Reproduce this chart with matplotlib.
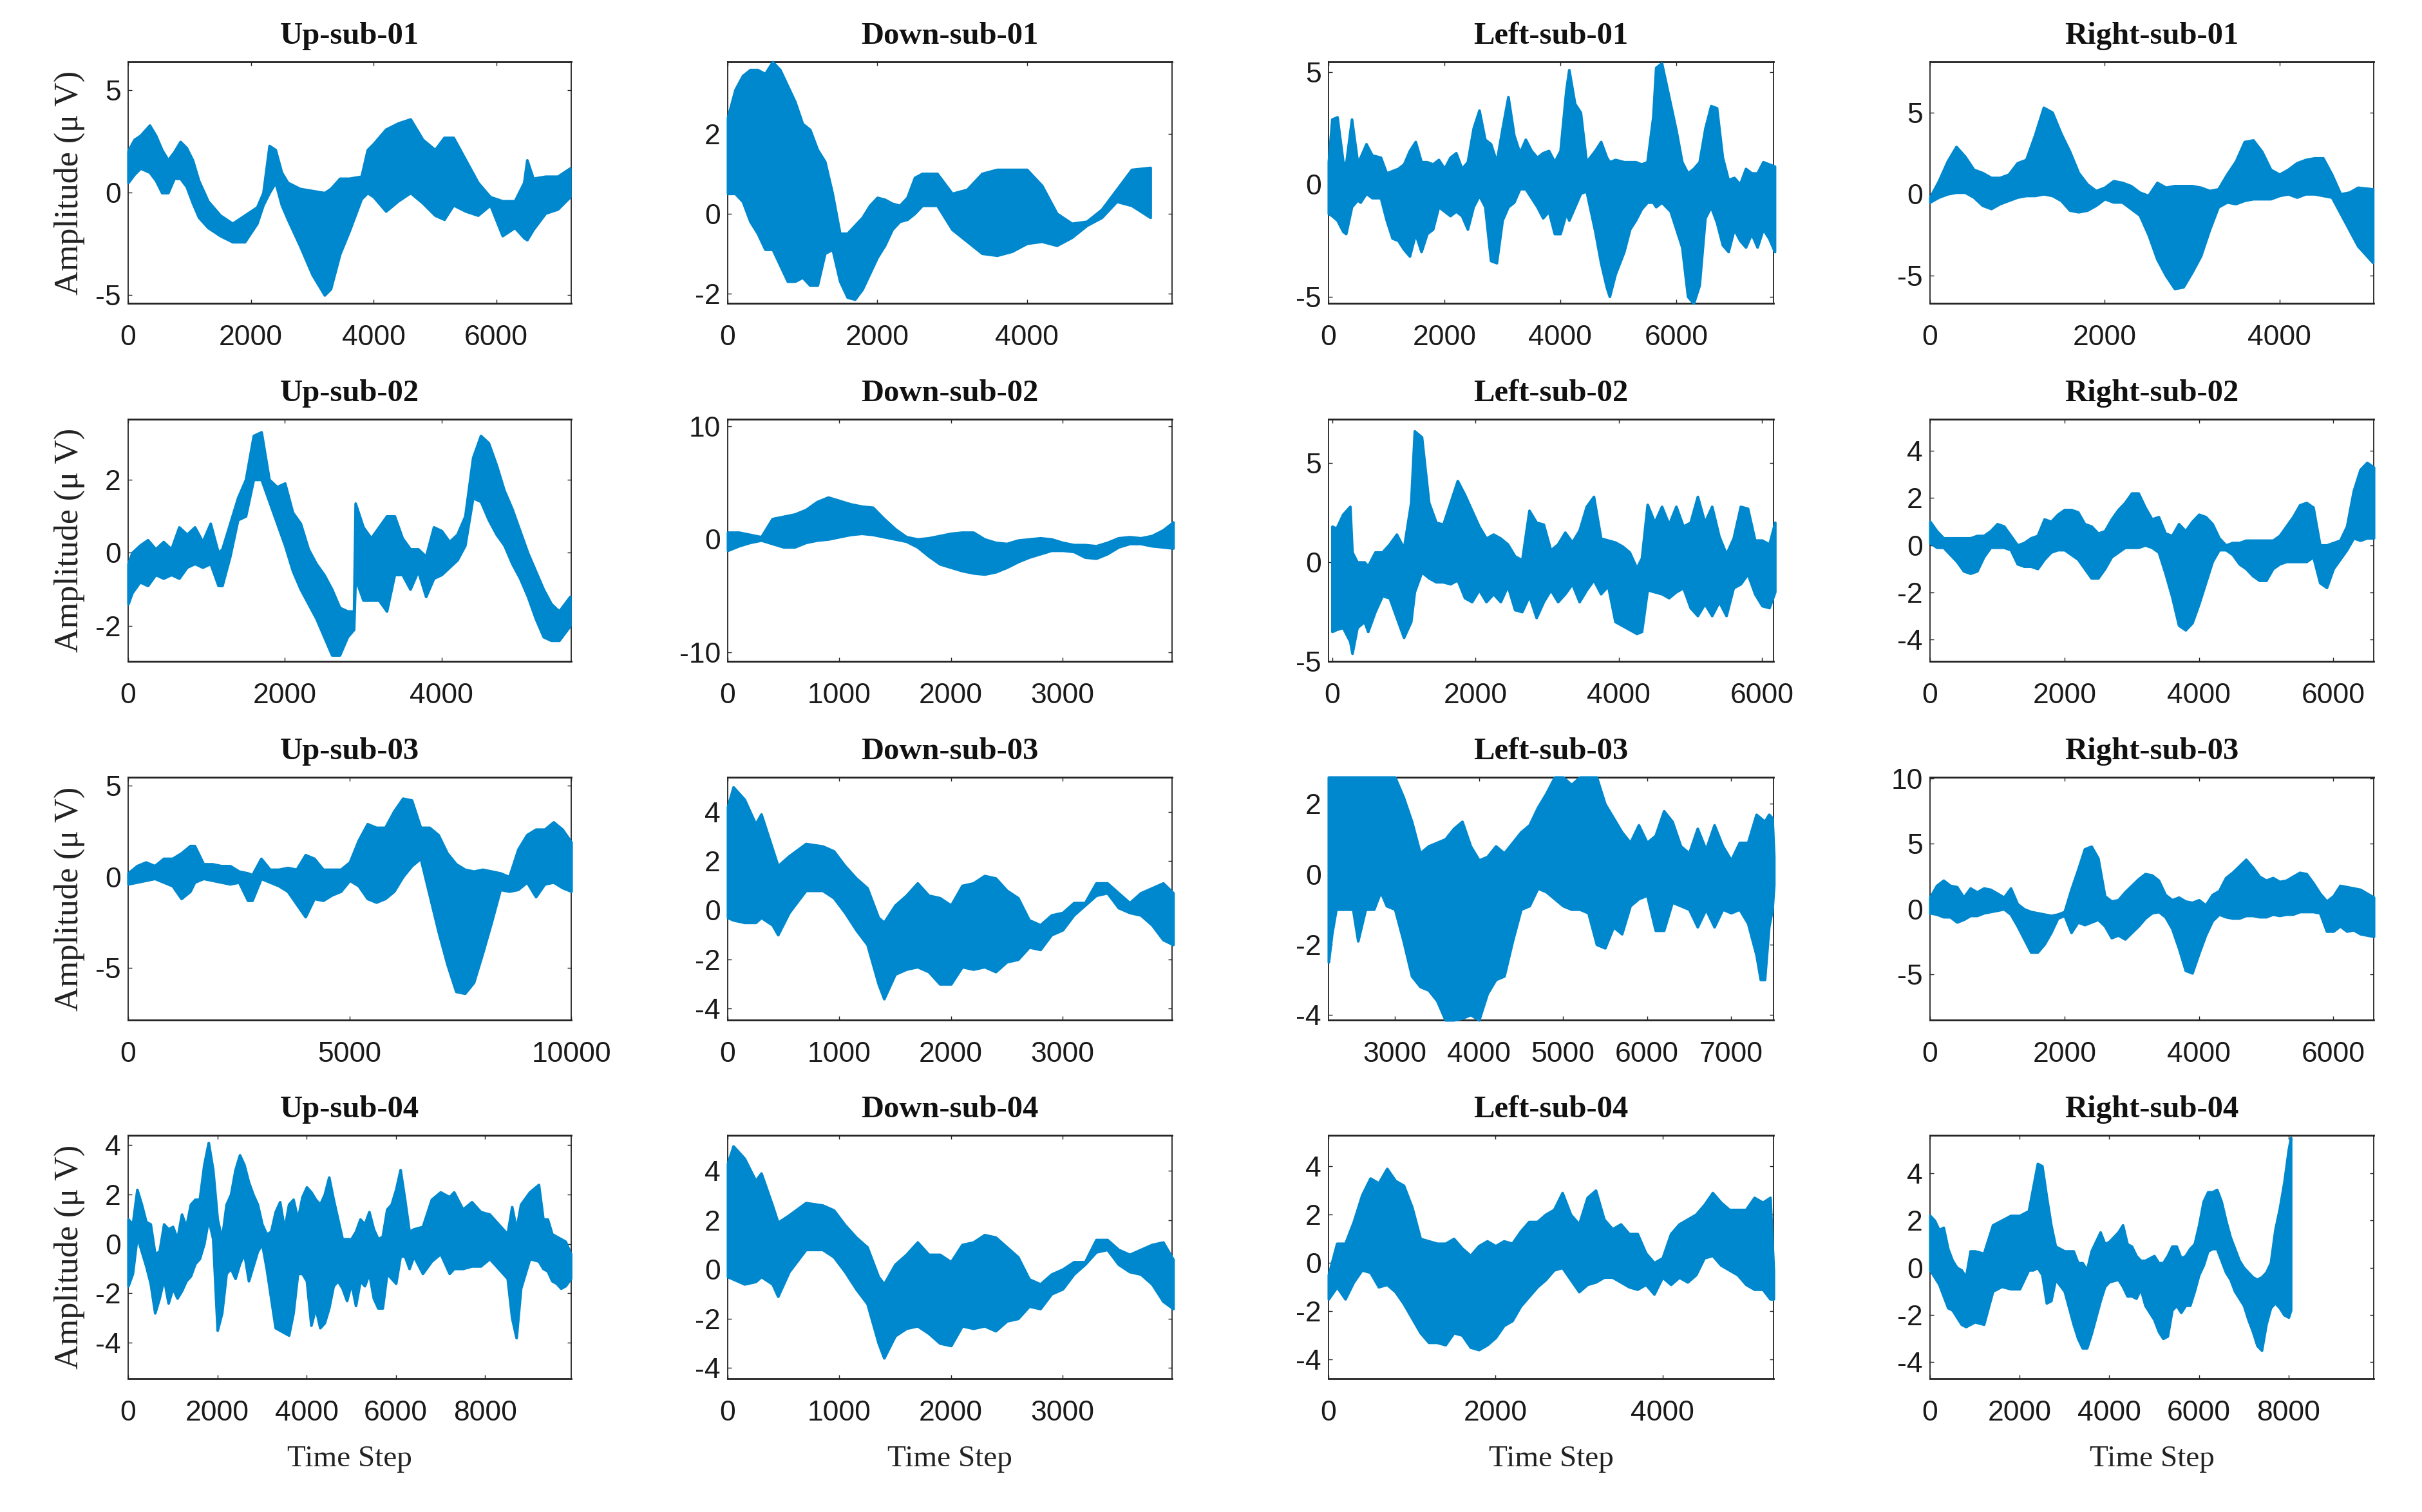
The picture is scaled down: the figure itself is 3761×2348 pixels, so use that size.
import matplotlib
matplotlib.use('Agg')
import matplotlib.pyplot as plt

plt.rcParams['axes.unicode_minus'] = False

# ---- first row ----
up1_x = [0,100,200,350,450,550,650,750,850,950,
         1050,1150,1300,1500,1700,1900,2100,2200,2300,2400,
         2500,2600,2800,3000,3200,3300,3450,3600,3800,3900,
         4000,4200,4400,4600,4800,5000,5150,5300,5500,5700,
         5900,6100,6300,6450,6500,6600,6800,7000,7200]
up1_hi = [2.05,2.6,2.8,3.3,2.8,2.1,1.6,2.0,2.5,2.2,
          1.6,0.6,-0.4,-1.1,-1.5,-1.1,-0.7,0,2.3,2.1,
          1.0,0.5,0.2,0.1,0,0.2,0.7,0.7,0.8,2.1,
          2.4,3.1,3.4,3.6,2.6,2.1,2.7,2.7,1.6,0.5,
          -0.2,-0.4,-0.4,0.5,1.6,0.7,0.8,0.8,1.2]
up1_lo = [0.5,0.9,1.2,1.0,0.6,0,0,0.7,0.7,0.3,
          -0.5,-1.2,-1.7,-2.1,-2.4,-2.4,-1.5,-0.6,0,0.5,
          -0.6,-1.3,-2.6,-4,-5.0,-4.7,-3,-1.9,-0.3,0,
          -0.2,-0.9,-0.4,0,-0.5,-1.1,-1.3,-0.6,-0.9,-1.1,
          -0.6,-2.1,-1.7,-2.2,-2.3,-1.8,-1,-0.8,-0.2]

down1_x = [0,100,200,300,400,500,600,700,800,900,
           1000,1100,1200,1300,1400,1500,1600,1700,1800,1900,
           2000,2100,2200,2300,2400,2500,2600,2800,3000,3200,
           3400,3600,3800,4000,4200,4400,4600,4800,5000,5200,
           5400,5650]
down1_hi = [2.4,3.1,3.45,3.6,3.6,3.5,3.8,3.6,3.2,2.8,
            2.25,2.1,1.6,1.3,0.5,-0.5,-0.5,-0.3,-0.1,0.2,
            0.4,0.35,0.25,0.2,0.4,0.9,1.0,1.0,0.5,0.6,
            1.0,1.1,1.1,1.1,0.7,0,-0.25,-0.2,0.1,0.6,
            1.1,1.15]
down1_lo = [0.5,0.5,0.3,-0.2,-0.5,-0.9,-0.9,-1.3,-1.7,-1.7,
            -1.6,-1.8,-1.8,-1.0,-0.9,-1.7,-2.1,-2.15,-1.9,-1.5,
            -1.1,-0.8,-0.4,-0.2,-0.15,0,0.2,0.2,-0.4,-0.7,
            -1,-1.05,-0.95,-0.75,-0.7,-0.8,-0.6,-0.3,-0.1,0.3,
            0.2,-0.1]

left1_x = [0,60,150,250,300,400,500,550,650,750,
           900,1000,1100,1200,1300,1400,1500,1600,1700,1800,
           1900,2000,2100,2200,2300,2400,2500,2600,2700,2800,
           2900,3000,3100,3200,3300,3400,3500,3600,3700,3800,
           3900,4000,4100,4150,4250,4350,4450,4600,4700,4800,
           4850,4950,5100,5200,5300,5400,5500,5600,5650,5750,
           5900,6000,6100,6200,6300,6400,6500,6600,6700,6800,
           6900,7000,7100,7200,7300,7400,7500,7600,7700]
left1_hi = [1.0,2.9,3.0,1.0,0.9,2.9,1.0,1.2,1.8,1.3,
            1.2,0.5,0.6,0.7,0.9,1.5,1.9,1.0,1.0,0.9,
            1.1,0.7,1.2,1.4,0.7,1.0,2.5,3.3,2.0,1.8,
            1.0,2.5,3.9,2.2,1.4,2.0,1.5,1.2,1.4,1.5,
            1.0,1.5,4.2,5.1,3.6,3.2,1.0,1.5,1.9,1.2,
            1.0,1.1,1.0,1.0,1.0,0.9,1.0,3,5.2,5.4,
            3.6,2.4,1.0,0.5,0.7,1.0,2.5,3.5,3.4,1.2,
            0.2,0.3,0.0,0.7,0.5,0.5,1.0,0.9,0.8]
left1_lo = [-1.3,-1.4,-1.6,-2.1,-2.2,-1.0,-0.7,-0.8,-0.4,-0.6,
            -0.6,-1.6,-2.4,-2.5,-2.9,-3.2,-2.2,-3.0,-2.2,-2.0,
            -1.0,-1.2,-1.4,-1.2,-1.4,-2.0,-1.0,-0.5,-1,-3.4,
            -3.5,-1.6,-1.0,-0.8,-0.2,-0.2,-0.6,-1.0,-1.5,-1.2,
            -2.2,-2.2,-1.3,-1.6,-1.0,-0.4,-0.3,-2.1,-3.5,-4.6,
            -5.0,-4,-3,-2,-1.6,-1.1,-0.8,-0.8,-1,-0.8,
            -1.2,-2,-2.8,-5,-5.3,-4.5,-1.5,-1,-1.7,-2.7,
            -3.0,-2,-2.5,-2.8,-2.2,-2.8,-2.0,-2.4,-3.0]

right1_x = [0,100,200,300,400,500,600,700,800,900,
            1000,1100,1200,1300,1400,1500,1600,1700,1800,1900,
            2000,2100,2200,2300,2400,2500,2600,2700,2800,2900,
            3000,3100,3200,3300,3400,3500,3600,3700,3800,3900,
            4000,4100,4200,4300,4400,4500,4600,4700,4800,4900,5070]
right1_hi = [-0.2,0.8,2.0,2.9,2.3,1.5,1.3,1.0,1.0,1.2,
             1.9,2.1,3.6,5.3,5.0,3.7,2.6,1.3,0.6,0.2,
             0.4,0.8,0.7,0.5,0.1,-0.1,0.7,0.4,0.5,0.5,
             0.5,0.4,0.2,0.3,1.2,2.0,3.2,3.3,2.6,1.5,
             1.2,1.5,1.9,2.1,2.2,2.2,1.2,0,0.1,0.4,0.3]
right1_lo = [-0.5,-0.2,0,0.1,0.1,-0.2,-0.7,-0.9,-0.6,-0.4,
             -0.2,-0.1,-0.1,0,-0.1,-0.4,-1.0,-1.1,-1.0,-0.7,
             -0.3,-0.5,-0.5,-0.9,-1.3,-2.5,-4,-5,-5.8,-5.7,
             -4.8,-3.8,-2.2,-0.8,-0.5,-0.6,-0.4,-0.3,-0.3,-0.3,
             -0.1,0,-0.2,0,0,-0.1,-0.2,-1.2,-2.2,-3.2,-4.2]

# ---- second row ----
up2_x = [0,50,150,250,350,450,550,650,750,850,
         950,1050,1150,1200,1300,1400,1500,1600,1700,1800,
         1900,2000,2100,2200,2300,2400,2500,2600,2700,2800,
         2880,2900,3000,3100,3200,3300,3400,3500,3600,3700,
         3800,3900,4000,4100,4200,4300,4400,4500,4600,4700,
         4800,4900,5000,5100,5200,5300,5400,5500,5640]
up2_hi = [-0.3,0,0.2,0.35,0.1,0.3,0.1,0.7,0.5,0.7,
          0.3,0.8,0,0.1,0.8,1.5,2.0,3.2,3.3,2.0,
          1.8,1.9,1.1,0.8,0.1,-0.3,-0.6,-1,-1.5,-1.6,
          -1.6,1.35,0.7,0.4,0.7,1.0,1.0,0.4,0.1,0.1,
          -0.1,0.7,0.6,0.3,0.5,1,2.6,3.2,3.0,2.4,
          1.7,1.2,0.6,0,-0.5,-1,-1.4,-1.6,-1.2]
up2_lo = [-1.4,-1.1,-0.8,-0.9,-0.6,-0.7,-0.6,-0.7,-0.4,-0.3,
          -0.4,-0.3,-0.9,-0.9,-0.1,0.9,1.0,2.0,2.0,1.4,
          0.8,0.2,-0.5,-1.0,-1.4,-1.8,-2.3,-2.8,-2.8,-2.3,
          -2.1,-0.7,-1.3,-1.3,-1.3,-1.6,-0.6,-0.6,-1,-0.5,
          -1.2,-0.7,-0.6,-0.4,-0.2,0.2,1.5,1.4,0.9,0.5,
          0.2,-0.3,-0.7,-1.2,-1.8,-2.3,-2.4,-2.4,-2.0]

down2_x = [0,100,200,300,400,500,600,700,800,900,
           1000,1100,1200,1300,1400,1500,1600,1700,1800,1900,
           2000,2100,2200,2300,2400,2500,2600,2700,2800,2900,
           3000,3100,3200,3300,3400,3500,3600,3700,3800,3900,3990]
down2_hi = [0.6,0.6,0.4,0.2,1.8,2.0,2.2,2.6,3.3,3.7,
            3.4,3.1,2.9,2.8,1.8,0.9,0.2,0,0.1,0.3,
            0.5,0.6,0.6,0,-0.3,-0.4,-0.1,0,0.1,0,
            -0.3,-0.5,-0.5,-0.6,-0.3,0.1,0.2,0.1,0.3,0.8,1.5]
down2_lo = [-1.0,-0.6,-0.3,-0.1,-0.4,-0.7,-0.7,-0.3,-0.1,0,
            0.2,0.4,0.5,0.4,0.2,0,-0.2,-0.7,-1.5,-2.2,
            -2.5,-2.8,-3.0,-3.1,-2.9,-2.5,-2.0,-1.6,-1.3,-1.0,
            -1.0,-1.1,-1.6,-1.7,-1.3,-0.7,-0.4,-0.4,-0.6,-0.7,-0.8]

left2_x = [0,60,150,250,280,350,450,500,600,700,
           800,900,1000,1100,1150,1250,1350,1450,1550,1650,
           1750,1850,1950,2050,2150,2250,2350,2450,2550,2650,
           2750,2850,2950,3050,3150,3250,3350,3450,3550,3650,
           3750,3850,3950,4050,4150,4250,4320,4400,4500,4600,
           4700,4800,4900,5000,5100,5200,5300,5400,5500,5600,
           5700,5800,5900,6000,6100,6180]
left2_hi = [1.8,1.7,2.4,2.8,0.5,0,0,-0.2,0.5,0.5,
            0.9,1.4,0.7,3,6.6,6.3,3.0,2.0,1.9,3.0,
            4.1,3.4,2.6,1.8,1.2,1.4,1.2,0.9,0.3,0.1,
            2.6,2.0,1.9,0.6,0.9,1.5,1.0,1.6,2.8,3.3,
            1.2,1.1,1.0,0.8,0.5,-0.3,0.2,2.9,2.0,2.8,
            1.9,2.8,1.8,2.0,3.3,2.0,2.8,1.3,0.4,1.2,
            2.8,2.7,1.1,1.1,0.9,2.0]
left2_lo = [-3.5,-3.4,-3.3,-4.0,-4.6,-3.3,-3.0,-3.5,-2.5,-1.7,
            -1.8,-2.8,-3.8,-3.0,-1.5,-0.5,-0.8,-1.0,-1,-1.1,
            -0.9,-1.8,-2,-1.4,-2.0,-1.6,-2,-1.2,-2.4,-2.5,
            -1.7,-2.8,-2.0,-1.4,-2.0,-1.6,-1.1,-2.0,-1.4,-0.9,
            -1.6,-1.2,-3.0,-3.2,-3.4,-3.6,-3.5,-1.4,-1.5,-1.6,
            -1.8,-1.5,-1.3,-2.3,-2.7,-2.1,-2.7,-2,-2.7,-1.3,
            -1.1,-0.6,-1.6,-2.2,-2.3,-1.5]

right2_x = [0,100,200,300,400,500,600,700,800,900,
            1000,1100,1200,1300,1400,1500,1600,1700,1800,1900,
            2000,2100,2200,2300,2400,2500,2600,2700,2800,2900,
            3000,3100,3200,3300,3400,3500,3600,3700,3800,3900,
            4000,4100,4200,4300,4400,4500,4600,4700,4800,4900,
            5000,5100,5200,5300,5400,5500,5600,5700,5800,5900,
            6000,6100,6200,6300,6400,6500,6600]
right2_hi = [1.0,0.6,0.3,0.3,0.3,0.3,0.3,0.4,0.4,0.6,
             0.9,0.8,0.4,0,0.1,0.3,0.4,1.1,1.0,1.3,
             1.5,1.5,1.4,0.9,0.8,0.5,0.6,1.1,1.5,1.8,
             2.2,2.2,1.6,1.1,1.2,0.5,0.4,0.9,0.6,1.0,
             1.3,1.2,0.9,0.3,0,0.1,0.1,0.2,0.2,0.2,
             0.2,0.2,0.4,0.8,1.2,1.7,1.8,1.6,0,0,
             0.1,0.2,0.8,2.3,3.2,3.5,3.3]
right2_lo = [0.1,-0.1,-0.1,-0.4,-0.7,-1.1,-1.2,-1.1,-0.5,-0.1,
             -0.1,-0.1,-0.2,-0.8,-0.9,-0.9,-1.0,-0.6,-0.3,-0.2,
             -0.2,-0.4,-0.6,-1.0,-1.4,-1.4,-1.0,-0.5,-0.3,-0.1,
             -0.1,-0.1,0,-0.1,-0.3,-1.2,-2.2,-3.4,-3.6,-3.3,
             -2.5,-1.6,-0.7,-0.2,-0.2,-0.4,-0.8,-1.0,-1.3,-1.5,
             -1.5,-1.0,-0.8,-0.7,-0.7,-0.7,-0.7,-0.5,-1.6,-1.8,
             -1.0,-0.6,-0.2,0.3,0.2,0.3,0.3]

# ---- third row ----
up3_x = [0,200,400,600,800,1000,1200,1400,1500,1700,
         1900,2100,2300,2500,2700,2800,3000,3200,3400,3600,
         3800,4000,4200,4400,4600,4800,5000,5200,5400,5600,
         5800,6000,6200,6400,6600,6800,7000,7200,7400,7600,
         7800,8000,8200,8400,8600,8800,9000,9200,9400,9600,
         9800,10000]
up3_hi = [0.2,0.6,0.8,0.6,1.0,1.0,1.3,1.7,1.7,0.7,
          0.7,0.6,0.6,0.3,0.2,0.1,1.0,0.4,0.4,0.5,
          0.4,1.2,1.0,0.4,0.4,0.4,0.8,2.0,2.9,2.7,
          2.7,3.6,4.3,4.2,2.7,2.7,2.3,1.3,0.7,0.4,
          0.3,0.4,0.3,0.2,0,1.5,2.3,2.6,2.6,3.0,
          2.6,1.9]
up3_lo = [-0.4,-0.3,-0.2,-0.1,-0.3,-0.5,-1.2,-0.8,-0.3,-0.1,
          -0.2,-0.3,-0.4,-0.3,-1.3,-1.3,-0.1,-0.3,-0.5,-0.8,
          -1.5,-2.2,-1.2,-1.3,-1,-0.8,-0.2,-0.5,-1.2,-1.4,
          -1.2,-0.8,0,0.6,1.0,-1,-3,-4.8,-6.3,-6.4,
          -5.8,-4.2,-2.5,-0.7,-0.8,-0.7,-0.3,-1.1,-0.4,-0.3,
          -0.6,-0.8]

down3_x = [0,50,150,250,300,400,450,550,700,850,
           950,1050,1150,1250,1350,1400,1500,1600,1700,1800,
           1900,2000,2100,2200,2300,2400,2500,2600,2700,2800,
           2900,3000,3100,3200,3300,3400,3500,3600,3700,3800,
           3900,3990]
down3_hi = [4.2,5.0,4.5,3.5,3.9,2.5,1.8,2.2,2.7,2.6,
            2.4,1.8,1.3,0.9,-0.3,-0.5,0.2,0.6,1.1,0.6,
            0.5,0.2,1,1.1,1.4,1.3,0.8,0.5,-0.4,-0.6,
            -0.2,-0.1,0.3,0.3,1.1,1.1,0.7,0.3,0.7,0.9,
            1.1,0.7]
down3_lo = [-0.3,-0.4,-0.5,-0.5,-0.3,-0.6,-1.0,-0.1,0.8,0.8,
            0.5,-0.1,-0.8,-1.4,-3.0,-3.6,-2.6,-2.4,-2.3,-2.5,
            -3,-3,-2.3,-2.4,-2.3,-2.5,-2.1,-2,-1.5,-1.6,
            -1,-0.8,-0.2,0.2,0.6,0.7,0.1,-0.1,-0.2,-0.6,
            -1.2,-1.4]

left3_x = [2210,2250,2300,2400,2500,2560,2650,2750,2830,2900,
           3000,3100,3200,3300,3400,3500,3600,3700,3800,3900,
           4000,4100,4200,4300,4400,4500,4600,4700,4800,4900,
           5000,5100,5200,5300,5400,5500,5600,5700,5800,5900,
           6000,6100,6200,6300,6400,6500,6600,6700,6800,6900,
           7000,7100,7200,7300,7350,7400,7450,7490,7510]
left3_hi = [2.76,2.76,2.76,2.76,2.76,2.76,2.76,2.76,2.76,2.76,
            2.76,2.2,1.5,0.6,0.8,0.9,1.0,1.3,1.5,0.8,
            0.4,0.5,0.8,0.6,0.9,1.2,1.4,1.9,2.3,2.76,
            2.76,2.55,2.76,2.76,2.76,2.0,1.6,1.2,0.9,1.4,
            0.9,1.1,1.8,1.5,0.8,0.6,1.3,0.7,1.4,0.8,
            0.4,0.9,0.9,1.7,1.6,1.5,1.7,1.6,0.5]
left3_lo = [-2.5,-1.7,-1.0,-1.0,-1.0,-1.9,-1.0,-1.0,-0.5,-0.9,
            -1.0,-1.9,-2.9,-3.2,-3.3,-3.6,-4.15,-4.15,-4.1,-4.0,
            -4.15,-3.4,-3.0,-2.9,-1.9,-1,-0.9,-0.4,-0.5,-0.7,
            -0.9,-1.0,-1.0,-1.1,-2.0,-2.1,-1.5,-1.7,-0.9,-0.7,
            -0.6,-1.6,-1.6,-0.8,-0.9,-1.0,-1.5,-1.0,-1.5,-1.0,
            -1.1,-1.0,-1.4,-2.3,-3.0,-3.0,-1.5,-1.0,-0.3]

right3_x = [0,100,200,300,400,500,600,700,800,900,
            1000,1100,1200,1300,1400,1500,1600,1700,1800,1900,
            2000,2100,2200,2300,2400,2500,2600,2700,2800,2900,
            3000,3100,3200,3300,3400,3500,3600,3700,3800,3900,
            4000,4100,4200,4300,4400,4500,4600,4700,4800,4900,
            5000,5100,5200,5300,5400,5500,5600,5700,5800,5900,
            6000,6100,6200,6300,6400,6500,6600]
right3_hi = [0.9,1.8,2.2,1.8,1.7,0.9,1.6,1.3,1.6,1.5,
             1.2,0.9,1.6,0.4,0,-0.2,-0.3,-0.4,-0.5,-0.4,
             -0.2,1.5,3.0,4.6,4.8,3.9,1.0,0.6,0.7,1.3,
             1.8,2.3,2.7,2.6,2.2,1.1,0.7,0.9,0.6,0.5,
             0.7,0.3,1.1,1.4,2.4,2.8,3.3,3.8,3.2,2.5,
             2.2,2.4,2.1,2.2,2.5,2.8,2.7,2.0,1.2,0.6,
             1.0,1.8,1.7,1.6,1.5,1.2,0.9]
right3_lo = [-0.3,-0.4,-0.6,-0.6,-1.0,-0.8,-0.5,-0.5,-0.3,-0.2,
             -0.1,0,-0.4,-1.3,-2.3,-3.3,-3.3,-2.7,-1.8,-0.7,
             -0.5,-1.8,-1.0,-1.2,-1.0,-0.8,-1.3,-2.2,-2.0,-2.3,
             -1.8,-1.3,-0.7,-0.3,-0.2,-0.6,-1.5,-3.0,-4.7,-4.9,
             -3.4,-2.0,-0.9,-0.4,-0.6,-0.7,-0.7,-0.5,-0.5,-0.6,
             -0.6,-0.4,-0.5,-0.4,-0.4,-0.2,-0.2,-0.2,-0.3,-1.7,
             -1.7,-1.3,-1.7,-1.6,-1.9,-2.0,-2.1]

# ---- fourth row ----
up4_x = [0,100,200,300,400,500,600,700,800,900,
         1000,1100,1200,1300,1400,1500,1600,1700,1800,1900,
         2000,2100,2200,2300,2400,2500,2600,2700,2800,2900,
         3000,3100,3200,3300,3400,3500,3600,3700,3800,3900,
         4000,4100,4200,4300,4400,4500,4600,4700,4800,4900,
         5000,5100,5200,5300,5400,5500,5600,5700,5800,5900,
         6000,6100,6200,6300,6400,6600,6800,7000,7200,7300,
         7500,7700,7900,8100,8300,8500,8600,8700,8800,9000,
         9200,9300,9400,9500,9600,9700,9800,9920]
up4_hi = [1.0,0.8,2.2,1.6,0.9,0.8,-0.4,-0.3,0.8,0.6,
          0.7,0.2,1.2,0.7,1.6,1.8,1.8,3.2,4.1,3.0,
          1.0,0.2,1.6,2.0,3.0,3.6,3.2,2.5,2.0,1.6,
          0.8,0.4,0.5,1.3,1.7,0.6,1.6,1.8,1.0,1.9,
          2.3,2.1,1.8,1.6,2.0,2.7,1.8,1.0,0.2,0.2,
          0.2,0.5,1.0,0.8,1.3,0.6,0.2,0.3,1.4,1.6,
          2.2,3.0,1.8,0.5,0.6,0.7,1.8,2.1,1.9,2.1,
          1.4,1.7,1.3,1.2,0.8,0.4,1.5,0.6,1.6,2.1,
          2.4,1.0,1.0,0.4,0.3,0.2,0.1,-0.4]
up4_lo = [-1.7,-1.2,0.3,-0.3,-0.9,-1.6,-2.8,-2.2,-1.4,-2.4,
          -1.8,-2.2,-1.9,-1.5,-1.3,-0.8,-0.6,0,1.0,0.2,
          -3.5,-2.8,-1.2,-1.0,-1.4,-0.8,-0.4,-1.5,-0.9,-0.3,
          0,-1.0,-2.2,-3.4,-3.5,-3.6,-3.7,-2.8,-1.2,-1.2,
          -1.5,-3.3,-2.6,-3.4,-3.2,-2.6,-1.7,-1.5,-1.8,-2.3,
          -1.6,-2.5,-1.5,-1.7,-1.2,-2.2,-2.6,-2.6,-1.2,-1.4,
          -1.6,-0.5,-0.5,-1.0,-0.5,-1.2,-0.7,-0.4,-1.2,-1.0,
          -1.0,-0.9,-0.9,-0.6,-1.0,-1.4,-3.0,-3.8,-1.8,-0.6,
          -0.7,-1.0,-1.1,-1.5,-1.6,-1.8,-1.7,-1.4]

down4_x = [0,50,150,250,300,400,450,550,700,850,
           950,1050,1150,1250,1350,1400,1500,1600,1700,1800,
           1900,2000,2100,2200,2300,2400,2500,2600,2700,2800,
           2900,3000,3100,3200,3300,3400,3500,3600,3700,3800,
           3900,3990]
down4_hi = [4.3,5.0,4.5,3.6,3.9,2.6,1.9,2.2,2.7,2.6,
            2.4,1.8,1.3,0.9,-0.3,-0.6,0.2,0.6,1.1,0.6,
            0.6,0.3,1,1.1,1.4,1.3,0.9,0.5,-0.4,-0.6,
            -0.2,0,0.3,0.3,1.2,1.2,0.8,0.6,0.8,1.0,
            1.1,0.4]
down4_lo = [-0.3,-0.4,-0.6,-0.5,-0.3,-0.6,-1.1,-0.1,0.8,0.8,
            0.5,-0.1,-0.8,-1.4,-3.0,-3.6,-2.7,-2.4,-2.3,-2.6,
            -3,-3.1,-2.3,-2.4,-2.3,-2.5,-2.1,-2,-1.5,-1.6,
            -1,-0.8,-0.2,0.2,0.7,0.8,0.2,-0.1,-0.2,-0.6,
            -1.3,-1.6]

left4_x = [0,100,200,300,400,500,600,700,800,900,
           1000,1100,1200,1300,1400,1500,1600,1700,1800,1900,
           2000,2100,2200,2300,2400,2500,2600,2700,2800,2900,
           3000,3100,3200,3300,3400,3500,3600,3700,3800,3900,
           4000,4100,4200,4300,4400,4500,4600,4700,4800,4900,
           5000,5100,5200,5290,5330]
left4_hi = [-0.5,0.8,0.8,1.7,2.8,3.5,3.3,3.9,3.4,3.2,
            2.3,1.0,0.9,0.8,0.8,1.0,0.6,0.3,0.7,0.9,
            0.7,0.9,0.8,1.3,1.7,1.7,2.0,2.2,2.9,2.0,
            1.6,2.7,3.0,1.8,1.4,1.6,1.2,1.2,0.4,0,
            0.2,1.2,1.6,1.8,2.0,2.4,2.9,2.5,2.2,2.2,
            2.2,2.7,2.5,2.7,-0.3]
left4_lo = [-1.5,-1.0,-1.5,-0.8,-0.3,-0.4,-1.0,-0.9,-1.2,-1.7,
            -2.3,-2.9,-3.3,-3.3,-3.4,-2.9,-3.0,-3.5,-3.6,-3.4,
            -3.1,-2.6,-2.4,-1.8,-1.4,-1.0,-0.7,-0.3,-0.2,-0.7,
            -1.2,-0.9,-0.8,-0.6,-0.6,-0.8,-1.0,-1.1,-0.9,-1.3,
            -0.6,-0.9,-0.6,-0.8,-0.5,0.2,0.3,-0.1,-0.3,-0.5,
            -0.9,-1.1,-1.1,-1.5,-1.5]

right4_x = [0,100,200,300,400,500,600,700,800,900,
            1000,1200,1400,1600,1800,2000,2200,2300,2400,2500,
            2600,2700,2800,3000,3200,3300,3400,3500,3600,3800,
            3900,4000,4200,4300,4400,4500,4600,4700,4800,5000,
            5100,5200,5300,5400,5500,5600,5700,5800,5900,6000,
            6100,6200,6300,6400,6500,6600,6700,6800,6900,7000,
            7100,7200,7300,7400,7500,7600,7700,7800,7900,8000,8050]
right4_hi = [2.2,2.0,1.6,1.7,0.8,0.3,0,-0.1,-0.4,0.7,
             0.7,0.6,1.8,2.0,2.2,2.2,2.4,3.4,4.4,4.3,
             3.0,1.8,0.9,0.7,0.7,0.2,0.2,-0.1,0.7,1.5,
             1.0,1.1,1.5,1.8,1.0,0.9,0.5,0.3,0.3,0.5,
             0.2,0.2,0.5,0.9,0.9,0.4,0.5,0.8,1.0,1.8,
             2.8,3.2,3.2,3.3,2.8,2.0,1.3,0.8,0.3,0,
             -0.2,-0.4,-0.5,-0.4,-0.2,0.2,1.6,2.5,3.6,5.0,5.5]
right4_lo = [-0.1,-0.4,-0.7,-1.2,-1.7,-1.8,-2.1,-2.4,-2.5,-2.4,
             -2.3,-2.4,-1.0,-0.8,-0.9,-0.9,-0.1,-0.1,0,-0.3,
             -1.5,-1.4,-0.5,-1.0,-2.4,-3.0,-3.4,-3.4,-2.8,-1.4,
             -0.8,-0.6,-0.5,-0.8,-1.2,-1.2,-1.3,-0.9,-1.6,-2.2,
             -2.7,-3.0,-2.9,-1.8,-1.6,-1.9,-1.6,-1.6,-1.0,-0.3,
             0.1,0.7,0.8,0.8,0.3,-0.2,-0.5,-1.0,-1.3,-1.6,
             -2.2,-2.7,-3.3,-3.5,-2.4,-1.7,-1.5,-1.7,-2.0,-2.1,-1.8]

titles = ['Up-sub-01', 'Down-sub-01', 'Left-sub-01', 'Right-sub-01',
          'Up-sub-02', 'Down-sub-02', 'Left-sub-02', 'Right-sub-02',
          'Up-sub-03', 'Down-sub-03', 'Left-sub-03', 'Right-sub-03',
          'Up-sub-04', 'Down-sub-04', 'Left-sub-04', 'Right-sub-04']
traces = [(up1_x, up1_hi, up1_lo), (down1_x, down1_hi, down1_lo), (left1_x, left1_hi, left1_lo), (right1_x, right1_hi, right1_lo),
          (up2_x, up2_hi, up2_lo), (down2_x, down2_hi, down2_lo), (left2_x, left2_hi, left2_lo), (right2_x, right2_hi, right2_lo),
          (up3_x, up3_hi, up3_lo), (down3_x, down3_hi, down3_lo), (left3_x, left3_hi, left3_lo), (right3_x, right3_hi, right3_lo),
          (up4_x, up4_hi, up4_lo), (down4_x, down4_hi, down4_lo), (left4_x, left4_hi, left4_lo), (right4_x, right4_hi, right4_lo)]

xlims = [(0, 7220), (0, 5940), (0, 7680), (0, 5080),
         (0, 5655), (0, 3980), (-50, 6160), (0, 6600),
         (0, 10000), (0, 3980), (2210, 7505), (0, 6600),
         (0, 9930), (0, 3980), (0, 5330), (0, 9900)]
ylims = [(-5.4, 6.4), (-2.25, 3.8), (-5.3, 5.46), (-6.7, 8.1),
         (-2.97, 3.65), (-10.8, 10.6), (-5.0, 7.2), (-4.93, 5.34),
         (-7.86, 5.46), (-4.46, 5.4), (-4.15, 2.76), (-8.5, 10.1),
         (-5.46, 4.4), (-4.44, 5.44), (-4.8, 5.28), (-4.7, 5.6)]
xticks = [[0, 2000, 4000, 6000], [0, 2000, 4000], [0, 2000, 4000, 6000], [0, 2000, 4000],
          [0, 2000, 4000], [0, 1000, 2000, 3000], [0, 2000, 4000, 6000], [0, 2000, 4000, 6000],
          [0, 5000, 10000], [0, 1000, 2000, 3000], [3000, 4000, 5000, 6000, 7000], [0, 2000, 4000, 6000],
          [0, 2000, 4000, 6000, 8000], [0, 1000, 2000, 3000], [0, 2000, 4000], [0, 2000, 4000, 6000, 8000]]
yticks = [[-5, 0, 5], [-2, 0, 2], [-5, 0, 5], [-5, 0, 5],
          [-2, 0, 2], [-10, 0, 10], [-5, 0, 5], [-4, -2, 0, 2, 4],
          [-5, 0, 5], [-4, -2, 0, 2, 4], [-4, -2, 0, 2], [-5, 0, 5, 10],
          [-4, -2, 0, 2, 4], [-4, -2, 0, 2, 4], [-4, -2, 0, 2, 4], [-4, -2, 0, 2, 4]]

fig_w, fig_h = 3762, 2348
col_edges = [(199, 887), (1130, 1820), (2063, 2754), (2997, 3686)]
row_edges = [(96, 471), (651, 1027), (1207, 1584), (1763, 2141)]
blue = '#0088CE'
sans = 'Liberation Sans'
serif = 'Liberation Serif'

fig = plt.figure(figsize=(fig_w / 100, fig_h / 100), dpi=100)

for i, title in enumerate(titles):
    r, c = divmod(i, 4)
    x0, x1 = col_edges[c]
    y0, y1 = row_edges[r]
    ax = fig.add_axes([x0 / fig_w, 1 - y1 / fig_h, (x1 - x0) / fig_w, (y1 - y0) / fig_h])

    x, hi, lo = traces[i]
    # thick edge so that narrow parts of the band keep their width
    ax.fill_between(x, lo, hi, color=blue, linewidth=3, joinstyle='round', clip_on=False, zorder=3)

    ax.set_xlim(xlims[i])
    ax.set_ylim(ylims[i])
    ax.set_xticks(xticks[i])
    ax.set_yticks(yticks[i])
    ax.tick_params(direction='in', top=True, right=True, length=4.5, width=1, color='#222222')
    ax.tick_params(axis='x', pad=24, labelsize=32, labelcolor='#1a1a1a')
    ax.tick_params(axis='y', pad=8, labelsize=32, labelcolor='#1a1a1a')
    for lab in ax.get_xticklabels() + ax.get_yticklabels():
        lab.set_fontfamily(sans)
    for side in ['top', 'bottom']:
        ax.spines[side].set_linewidth(2)
        ax.spines[side].set_color('#222222')
    for side in ['left', 'right']:
        ax.spines[side].set_linewidth(1.3)
        ax.spines[side].set_color('#222222')

    ax.set_title(title, fontfamily=serif, fontweight='bold', fontsize=35, pad=20, color='#111111')
    if c == 0:
        ax.set_ylabel('Amplitude (\u03bc V)', fontfamily=serif, fontsize=37.5, color='#222222')
        ax.yaxis.set_label_coords(-0.097, 0.5)
    if r == 3:
        ax.set_xlabel('Time Step', fontfamily=serif, fontsize=34, labelpad=21, color='#222222')

fig.savefig('out.png', dpi=100, facecolor='white')
